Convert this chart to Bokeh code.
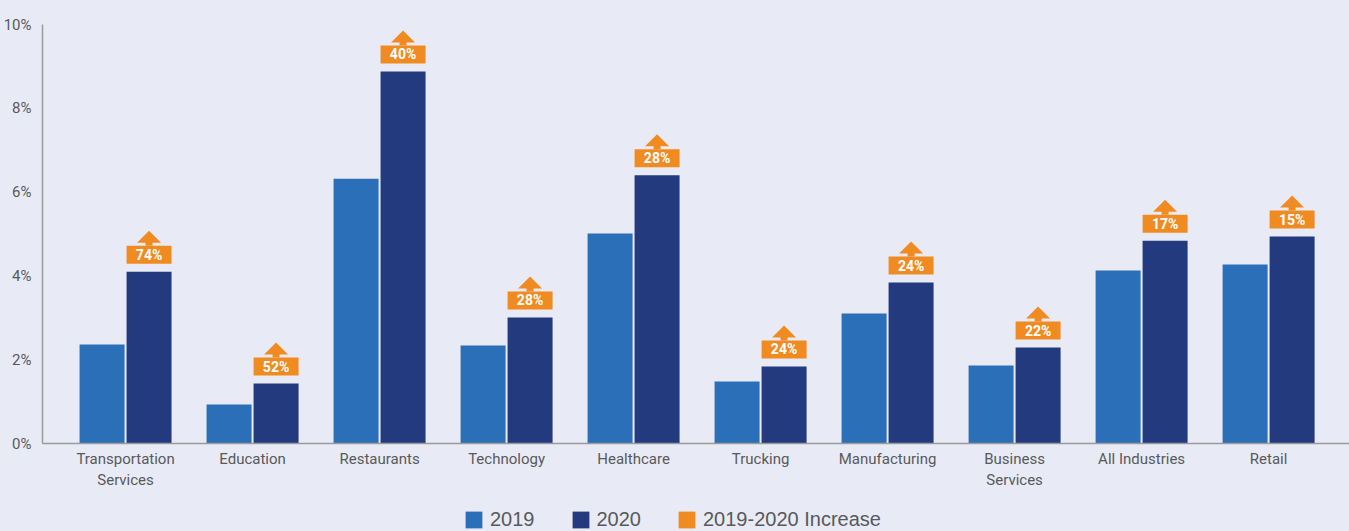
from bokeh.plotting import figure
from bokeh.models import Legend, LegendItem, FixedTicker, Range1d
from bokeh.layouts import column
from bokeh.embed import file_html
from bokeh.resources import INLINE
from bokeh.core.properties import value

# ---- data ----
categories = ["Transportation\nServices", "Education", "Restaurants", "Technology",
              "Healthcare", "Trucking", "Manufacturing", "Business\nServices",
              "All Industries", "Retail"]
v2019 = [2.36, 0.93, 6.32, 2.34, 5.01, 1.48, 3.10, 1.86, 4.13, 4.27]
v2020 = [4.10, 1.43, 8.88, 3.01, 6.40, 1.84, 3.84, 2.29, 4.84, 4.94]
increase = ["74%", "52%", "40%", "28%", "28%", "24%", "24%", "22%", "17%", "15%"]
y_ticks = [0, 2, 4, 6, 8, 10]
y_tick_labels = ["0%", "2%", "4%", "6%", "8%", "10%"]
series_names = ["2019", "2020", "2019-2020 Increase"]

# ---- style ----
BG = "#e8ebf6"
C2019 = "#2c6fb9"
C2020 = "#233a7e"
ORANGE = "#f08b22"
TXT = "#58595b"

LEFT, TOP, BOTTOM = 34, 24, 58
FRAME_W = 1307
FRAME_H = 419
X0, X1 = -0.654, 9.637
px_x = FRAME_W / (X1 - X0)
px_y = FRAME_H / 10.0

bar_w = 45 / px_x
off = 23.5 / px_x

idx = list(range(len(categories)))
x19 = [i - off for i in idx]
x20 = [i + off for i in idx]

p = figure(frame_width=FRAME_W, frame_height=FRAME_H,
           x_range=Range1d(X0, X1), y_range=Range1d(0, 10),
           output_backend="svg", toolbar_location=None,
           min_border_left=LEFT, min_border_right=0, min_border_top=TOP,
           min_border_bottom=BOTTOM,
           background_fill_color=BG, border_fill_color=BG, outline_line_color=None)

p.xgrid.visible = False
p.ygrid.visible = False

p.vbar(x=x19, top=v2019, width=bar_w, bottom=0, fill_color=C2019, line_color=None)
p.vbar(x=x20, top=v2020, width=bar_w, bottom=0, fill_color=C2020, line_color=None)

# badges
badge_bottom = [v + 8 / px_y for v in v2020]
badge_h = 18 / px_y
badge_c = [b + badge_h / 2 for b in badge_bottom]
badge_top = [b + badge_h for b in badge_bottom]
p.rect(x=x20, y=badge_c, width=bar_w, height=badge_h, fill_color=ORANGE, line_color=None)

# arrow: triangle + stem
tri_half = 12 / px_x
tri_xs = [[x - tri_half, x + tri_half, x] for x in x20]
tri_ys = [[t + 3 / px_y, t + 3 / px_y, t + 15 / px_y] for t in badge_top]
p.patches(tri_xs, tri_ys, fill_color=ORANGE, line_color=None)
p.rect(x=x20, y=[t + 2 / px_y for t in badge_top], width=7 / px_x, height=4 / px_y,
       fill_color=ORANGE, line_color=None)

p.text(x=x20, y=badge_c, text=increase, text_color="white", text_font=value("Roboto"),
       text_font_style="bold", text_font_size="14px", text_align="center",
       text_baseline="middle")

# axes
p.xaxis.ticker = FixedTicker(ticks=idx)
p.xaxis.major_label_overrides = {i: c for i, c in zip(idx, categories)}
p.xaxis.major_tick_line_color = None
p.xaxis.minor_tick_line_color = None
p.xaxis.axis_line_color = "#9a9a9a"
p.xaxis.axis_line_width = 1.5
p.xaxis.major_label_text_font = "Roboto"
p.xaxis.major_label_text_font_size = "15px"
p.xaxis.major_label_text_color = TXT
p.xaxis.major_label_standoff = 0

p.yaxis.ticker = FixedTicker(ticks=y_ticks)
p.yaxis.major_label_overrides = {t: l for t, l in zip(y_ticks, y_tick_labels)}
p.yaxis.major_tick_line_color = None
p.yaxis.minor_tick_line_color = None
p.yaxis.axis_line_color = "#9a9a9a"
p.yaxis.axis_line_width = 1.5
p.yaxis.major_label_text_font = "Roboto"
p.yaxis.major_label_text_font_size = "15px"
p.yaxis.major_label_text_color = TXT
p.yaxis.major_label_standoff = 5

# ---- legend strip (separate figure, no axes) ----
lg = figure(width=LEFT + FRAME_W, height=30, x_range=Range1d(0, 1), y_range=Range1d(0, 1),
            x_axis_location=None, y_axis_location=None,
            output_backend="svg", toolbar_location=None,
            min_border_left=0, min_border_right=0, min_border_top=0, min_border_bottom=0,
            background_fill_color=BG, border_fill_color=BG, outline_line_color=None)
lg.grid.visible = False
# hidden zero-height swatch renderers (outside the strip's range) for the legend
g1 = lg.vbar(x=[-1], top=[0], bottom=[0], width=0.1, fill_color=C2019, line_color=None)
g2 = lg.vbar(x=[-1], top=[0], bottom=[0], width=0.1, fill_color=C2020, line_color=None)
g3 = lg.vbar(x=[-1], top=[0], bottom=[0], width=0.1, fill_color=ORANGE, line_color=None)
legend = Legend(items=[LegendItem(label=series_names[0], renderers=[g1]),
                       LegendItem(label=series_names[1], renderers=[g2]),
                       LegendItem(label=series_names[2], renderers=[g3])],
                orientation="horizontal", location=(421, 0),
                background_fill_alpha=0, border_line_color=None,
                glyph_width=21, glyph_height=21, label_standoff=6, spacing=35,
                label_text_font="Liberation Sans", label_text_font_size="20px",
                label_text_color=TXT, padding=0, margin=0)
lg.add_layout(legend, "center")

layout = column(p, lg, spacing=0, styles={"background-color": BG})
open("out.html", "w").write(file_html(layout, INLINE))
